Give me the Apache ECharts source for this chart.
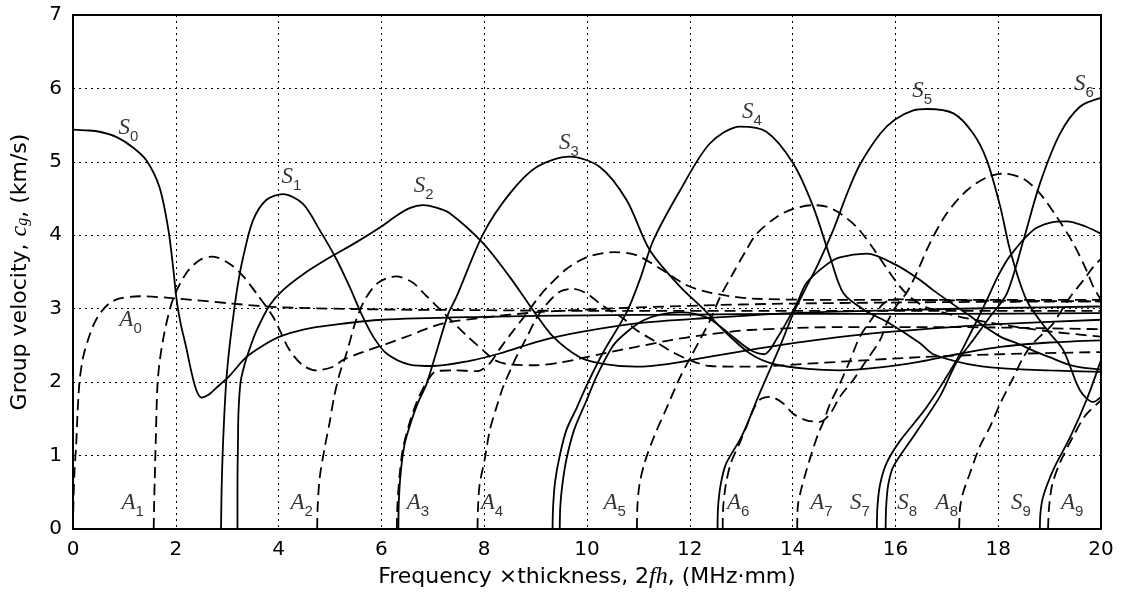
<!DOCTYPE html>
<html>
<head>
<meta charset="utf-8">
<title>Lamb wave group velocity dispersion</title>
<script src="https://cdn.jsdelivr.net/npm/echarts@6/dist/echarts.min.js"></script>
<style>
  html, body { margin: 0; padding: 0; background: #fff; }
  #chart { width: 1122px; height: 597px; }
</style>
</head>
<body>
<div id="chart"></div>
<script>
// Axis ticks
const xTicks = [0, 2, 4, 6, 8, 10, 12, 14, 16, 18, 20];
const yTicks = [0, 1, 2, 3, 4, 5, 6, 7];

// Symmetric modes (solid): [frequency-thickness (MHz·mm), group velocity (km/s)]
const S0 = [[0,5.44],[0.25,5.43],[0.52,5.41],[0.84,5.34],[1.16,5.20],[1.43,5.02],[1.68,4.66],[1.85,4.10],[1.95,3.55],[2.02,3.10],[2.1,2.78],[2.2,2.48],[2.3,2.15],[2.4,1.89],[2.5,1.79],[2.62,1.82],[2.8,1.93],[3.05,2.09],[3.37,2.34],[3.7,2.50],[4.02,2.62],[4.5,2.72],[5.06,2.78],[6,2.85],[8,2.89],[10,2.91],[12,2.92],[14,2.93],[17,2.93],[20,2.94]];
const S1 = [[2.88,0],[2.89,0.5],[2.91,1.0],[2.94,1.5],[2.98,2.0],[3.04,2.45],[3.11,2.85],[3.2,3.3],[3.31,3.70],[3.50,4.20],[3.76,4.48],[4.08,4.56],[4.47,4.43],[4.80,4.07],[5.12,3.68],[5.38,3.30],[5.61,2.93],[5.84,2.62],[6.10,2.39],[6.55,2.24],[7.0,2.22],[7.65,2.28],[8.30,2.39],[9.08,2.56],[9.86,2.68],[10.96,2.80],[12.26,2.87],[14,2.94],[16,2.98],[18,3.01],[20,3.03]];
const S2 = [[3.20,0],[3.20,0.6],[3.21,1.2],[3.22,1.6],[3.26,2.0],[3.33,2.22],[3.42,2.42],[3.57,2.70],[3.83,3.05],[4.08,3.25],[4.5,3.48],[5.0,3.70],[5.5,3.90],[6.0,4.12],[6.3,4.27],[6.55,4.37],[6.81,4.41],[7.05,4.38],[7.33,4.30],[7.98,3.89],[8.50,3.43],[8.95,2.98],[9.34,2.62],[9.86,2.34],[10.31,2.25],[10.96,2.21],[11.6,2.25],[12.26,2.33],[13.17,2.44],[14.3,2.56],[15.5,2.66],[16.5,2.72],[18,2.79],[20,2.85]];
const S3 = [[6.33,0],[6.34,0.4],[6.38,0.8],[6.45,1.15],[6.55,1.40],[6.7,1.70],[6.88,1.98],[7.10,2.48],[7.30,2.93],[7.46,3.16],[7.98,4.02],[8.50,4.57],[9.02,4.93],[9.66,5.07],[10.25,4.93],[10.77,4.48],[11.22,3.80],[11.81,3.30],[12.26,3.00],[12.65,2.71],[13.17,2.39],[13.62,2.25],[14.3,2.18],[14.92,2.16],[15.7,2.20],[16.48,2.28],[17.2,2.38],[18.04,2.48],[19.0,2.54],[20,2.57]];
const S4 = [[9.33,0],[9.34,0.3],[9.38,0.65],[9.47,1.0],[9.60,1.35],[9.80,1.65],[9.99,1.95],[10.31,2.40],[10.77,2.95],[11.03,3.40],[11.29,3.93],[11.81,4.61],[12.39,5.25],[12.98,5.48],[13.49,5.41],[14.01,4.98],[14.40,4.39],[14.73,3.70],[14.99,3.21],[15.4,2.98],[15.89,2.80],[16.48,2.53],[16.74,2.38],[17.39,2.25],[18.04,2.19],[19.0,2.16],[20,2.14]];
const S5 = [[9.47,0],[9.48,0.3],[9.52,0.6],[9.60,0.95],[9.75,1.35],[9.99,1.75],[10.2,2.10],[10.51,2.50],[10.77,2.68],[11.09,2.84],[11.42,2.92],[11.81,2.95],[12.1,2.93],[12.39,2.86],[12.8,2.64],[13.17,2.44],[13.45,2.38],[13.7,2.60],[14.08,3.07],[14.27,3.35],[14.66,3.60],[14.92,3.70],[15.44,3.75],[16.03,3.59],[16.48,3.39],[16.74,3.25],[17.39,2.93],[18.04,2.62],[18.4,2.52],[18.68,2.43],[19.0,2.34],[19.46,2.22],[20,2.17]];
const S6 = [[12.54,0],[12.55,0.3],[12.6,0.6],[12.7,0.88],[12.97,1.21],[13.10,1.40],[13.36,1.85],[13.75,2.48],[14.01,2.93],[14.27,3.30],[14.47,3.57],[14.79,4.07],[15.05,4.55],[15.30,4.95],[15.70,5.38],[16.0,5.58],[16.35,5.70],[16.61,5.72],[17.13,5.66],[17.52,5.38],[17.78,5.02],[18.04,4.39],[18.23,3.80],[18.55,3.12],[18.95,2.71],[19.27,2.43],[19.59,1.89],[19.85,1.73],[20,1.80]];
const S7 = [[15.64,0],[15.65,0.3],[15.7,0.6],[15.83,0.9],[16.09,1.2],[16.61,1.66],[17.19,2.30],[17.5,2.72],[17.78,3.12],[18.0,3.45],[18.23,3.72],[18.68,4.07],[19.0,4.17],[19.33,4.19],[19.7,4.12],[20,4.02]];
const S8 = [[15.81,0],[15.82,0.3],[15.86,0.6],[15.96,0.85],[16.35,1.26],[16.87,1.81],[17.19,2.27],[17.52,2.58],[17.85,2.90],[18.17,3.21],[18.49,3.93],[18.81,4.70],[19.2,5.38],[19.59,5.75],[20,5.87]];
const S9 = [[18.81,0],[18.82,0.2],[18.86,0.4],[18.95,0.6],[19.1,0.85],[19.4,1.25],[19.72,1.76],[20,2.30]];

// Antisymmetric modes (dashed)
const A0 = [[0,0],[0.01,0.4],[0.03,0.8],[0.06,1.12],[0.09,1.6],[0.13,2.03],[0.2,2.35],[0.29,2.57],[0.4,2.78],[0.52,2.93],[0.7,3.07],[0.91,3.14],[1.29,3.17],[2.0,3.14],[3.1,3.07],[4.0,3.02],[6,2.99],[8,2.98],[10,2.97],[14,2.97],[20,2.97]];
const A1 = [[1.57,0],[1.58,0.4],[1.59,0.67],[1.61,1.2],[1.65,2.03],[1.75,2.57],[1.94,3.12],[2.2,3.48],[2.46,3.66],[2.72,3.71],[3.05,3.61],[3.30,3.45],[3.60,3.18],[3.90,2.88],[4.21,2.44],[4.47,2.23],[4.73,2.16],[5.06,2.21],[5.25,2.30],[5.64,2.41],[6.10,2.52],[6.49,2.62],[7.2,2.80],[8,2.88],[9,2.95],[10,2.99],[12,3.04],[14,3.07],[17,3.09],[20,3.10]];
const A2 = [[4.75,0],[4.76,0.3],[4.80,0.7],[4.90,1.12],[4.99,1.44],[5.08,1.80],[5.19,2.12],[5.32,2.39],[5.51,2.85],[5.70,3.15],[5.95,3.36],[6.29,3.44],[6.60,3.36],[6.88,3.17],[7.20,2.95],[7.65,2.64],[8.0,2.42],[8.2,2.30],[8.5,2.24],[9.0,2.23],[9.5,2.27],[9.86,2.32],[10.31,2.39],[10.96,2.48],[11.61,2.57],[12.26,2.64],[13.17,2.71],[15,2.75],[17,2.75],[20,2.72]];
const A3 = [[6.30,0],[6.31,0.3],[6.35,0.7],[6.42,1.1],[6.55,1.45],[6.70,1.75],[6.88,2.00],[7.07,2.15],[7.4,2.16],[7.86,2.15],[8.1,2.25],[8.3,2.45],[8.5,2.64],[8.82,2.93],[9.02,3.12],[9.21,3.28],[9.6,3.54],[9.99,3.70],[10.51,3.77],[10.96,3.73],[11.48,3.52],[11.94,3.32],[12.39,3.22],[13.17,3.14],[15,3.12],[17,3.12],[20,3.12]];
const A4 = [[7.87,0],[7.88,0.3],[7.91,0.6],[8.01,0.95],[8.11,1.35],[8.24,1.66],[8.37,1.94],[8.50,2.15],[8.63,2.35],[8.82,2.60],[9.0,2.85],[9.2,3.05],[9.47,3.23],[9.73,3.27],[9.99,3.21],[10.25,3.07],[10.44,2.98],[10.70,2.87],[10.96,2.71],[11.29,2.57],[11.61,2.43],[12.0,2.30],[12.39,2.22],[13.17,2.21],[14.5,2.26],[16.48,2.34],[18,2.38],[20,2.41]];
const A5 = [[10.97,0],[10.98,0.3],[11.02,0.6],[11.12,0.9],[11.3,1.25],[11.55,1.65],[11.8,2.05],[12.0,2.32],[12.2,2.58],[12.4,2.85],[12.59,3.16],[12.84,3.48],[13.10,3.80],[13.30,4.02],[13.69,4.25],[14.01,4.36],[14.40,4.41],[14.66,4.39],[14.92,4.30],[15.25,4.11],[15.57,3.82],[15.83,3.55],[16.09,3.30],[16.3,3.15],[16.6,3.02],[17.2,2.90],[18,2.79],[19,2.69],[20,2.62]];
const A6 = [[12.64,0],[12.65,0.3],[12.7,0.6],[12.8,0.9],[12.97,1.17],[13.10,1.39],[13.23,1.62],[13.36,1.76],[13.56,1.80],[13.82,1.71],[14.01,1.57],[14.27,1.48],[14.53,1.46],[14.73,1.57],[14.92,1.80],[15.18,2.03],[15.44,2.30],[15.70,2.57],[15.83,2.80],[16.0,3.02],[16.22,3.22],[16.41,3.48],[16.67,3.89],[17.0,4.30],[17.39,4.61],[17.78,4.79],[18.10,4.84],[18.49,4.77],[18.81,4.57],[19.14,4.25],[19.46,3.89],[19.72,3.52],[19.85,3.30],[20,3.12]];
const A7 = [[14.09,0],[14.10,0.3],[14.17,0.55],[14.27,0.8],[14.37,1.03],[14.50,1.30],[14.60,1.46],[14.73,1.71],[14.92,1.98],[15.12,2.30],[15.31,2.62],[15.57,2.89],[15.77,3.07],[16.0,3.13],[16.5,3.12],[18,3.11],[20,3.10]];
const A8 = [[17.24,0],[17.26,0.3],[17.32,0.5],[17.45,0.76],[17.64,1.12],[17.84,1.39],[18.04,1.71],[18.30,2.07],[18.49,2.34],[18.68,2.53],[18.95,2.71],[19.07,2.80],[19.40,3.16],[19.66,3.39],[19.85,3.57],[20,3.68]];
const A9 = [[18.97,0],[18.99,0.3],[19.05,0.6],[19.2,0.9],[19.45,1.25],[19.7,1.55],[20,1.75]];

// Mode labels: [letter, subscript, x, y]
const modeLabels = [
  ['S','0',1.08,5.46],['S','1',4.25,4.79],['S','2',6.82,4.67],['S','3',9.65,5.25],
  ['S','4',13.21,5.67],['S','5',16.52,5.96],['S','6',19.67,6.05],
  ['S','7',15.31,0.35],['S','8',16.23,0.35],['S','9',18.44,0.35],
  ['A','0',1.12,2.84],['A','1',1.16,0.35],['A','2',4.45,0.35],['A','3',6.71,0.35],
  ['A','4',8.15,0.35],['A','5',10.54,0.35],['A','6',12.94,0.35],['A','7',14.56,0.35],
  ['A','8',17.0,0.35],['A','9',19.44,0.35]
];

const symmetric = { S0, S1, S2, S3, S4, S5, S6, S7, S8, S9 };
const antisymmetric = { A0, A1, A2, A3, A4, A5, A6, A7, A8, A9 };

const sans = 'DejaVu Sans, Verdana, sans-serif';
const subSans = 'Liberation Sans, Arial, Helvetica, sans-serif';
const serif = 'Liberation Serif, Times New Roman, serif';

function curve(name, data, dashed) {
  return {
    name, type: 'line', data, showSymbol: false, symbol: 'none',
    smooth: 0.3, silent: true, z: dashed ? 3 : 4,
    lineStyle: { color: '#000', width: 1.8, type: dashed ? [11, 6] : 'solid' }
  };
}

const series = [];
for (const [k, v] of Object.entries(symmetric)) series.push(curve(k, v, false));
for (const [k, v] of Object.entries(antisymmetric)) series.push(curve(k, v, true));

series.push({
  type: 'scatter', symbolSize: 0, silent: true, z: 6,
  data: modeLabels.map(l => ({ value: [l[2], l[3]], lab: l })),
  label: {
    show: true, position: 'inside',
    formatter: p => '{m|' + p.data.lab[0] + '}{s|' + p.data.lab[1] + '}',
    rich: {
      m: { fontFamily: serif, fontStyle: 'italic', fontSize: 23, color: '#000', verticalAlign: 'bottom', lineHeight: 22 },
      s: { fontFamily: subSans, fontSize: 15, color: '#000', verticalAlign: 'bottom', lineHeight: 22, padding: [0, 0, -5, 0] }
    }
  }
});

const gridDots = { color: '#000', width: 1, type: [2, 4] };

const chart = echarts.init(document.getElementById('chart'), null, { renderer: 'canvas' });
chart.setOption({
  animation: false,
  backgroundColor: '#fff',
  grid: { left: 73, right: 21, top: 15, bottom: 68, show: false },
  xAxis: {
    type: 'value', min: xTicks[0], max: xTicks[xTicks.length - 1], interval: 2,
    name: 'Frequency \u00d7thickness, 2{i|fh}, (MHz\u00b7mm)',
    nameLocation: 'middle', nameGap: 33,
    nameTextStyle: { fontFamily: sans, fontSize: 22, color: '#000',
      rich: { i: { fontFamily: serif, fontStyle: 'italic', fontSize: 24, color: '#000' } } },
    axisLine: { show: true, onZero: false, lineStyle: { color: '#000', width: 2 } },
    axisTick: { show: false },
    axisLabel: { fontFamily: sans, fontSize: 20, color: '#000', margin: 11 },
    splitLine: { show: true, lineStyle: gridDots }
  },
  yAxis: {
    type: 'value', min: yTicks[0], max: yTicks[yTicks.length - 1], interval: 1,
    name: 'Group velocity, {i|c}{g|g}, (km/s)',
    nameLocation: 'middle', nameGap: 41, nameRotate: 90,
    nameTextStyle: { fontFamily: sans, fontSize: 22, color: '#000',
      rich: { i: { fontFamily: serif, fontStyle: 'italic', fontSize: 24, color: '#000' },
              g: { fontFamily: serif, fontStyle: 'italic', fontSize: 16, color: '#000', padding: [0, 0, -6, 0] } } },
    axisLine: { show: true, onZero: false, lineStyle: { color: '#000', width: 2 } },
    axisTick: { show: false },
    axisLabel: { fontFamily: sans, fontSize: 20, color: '#000', margin: 11 },
    splitLine: { show: true, lineStyle: gridDots }
  },
  series
});

// Close the frame along the top and right edges, placed through the axis scales
const tl = chart.convertToPixel({ gridIndex: 0 }, [xTicks[0], yTicks[yTicks.length - 1]]);
const br = chart.convertToPixel({ gridIndex: 0 }, [xTicks[xTicks.length - 1], yTicks[0]]);
chart.setOption({
  graphic: [{
    type: 'polyline', silent: true, z: 10,
    shape: { points: [[tl[0], br[1]], [tl[0], tl[1]], [br[0], tl[1]], [br[0], br[1]]] },
    style: { stroke: '#000', lineWidth: 2, fill: null }
  }]
});
</script>
</body>
</html>
